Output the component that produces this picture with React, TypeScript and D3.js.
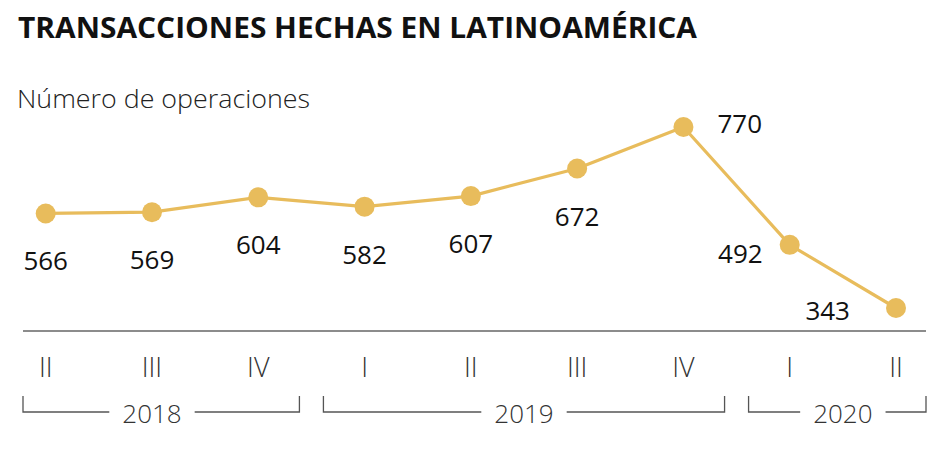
import React, { useEffect, useRef } from "react";
import * as d3 from "d3";

const quarters = ["II", "III", "IV", "I", "II", "III", "IV", "I", "II"];
const values = [566, 569, 604, 582, 607, 672, 770, 492, 343];
const labelPlacement = ["below", "below", "below", "below", "below", "below", "right", "left", "lowerLeft"];
const years = ["2018", "2019", "2020"];
const yearStart = [0, 3, 7];
const yearEnd = [2, 6, 8];

const TITLE = "TRANSACCIONES HECHAS EN LATINOAMÉRICA";
const SUBTITLE = "Número de operaciones";

const W = 951;
const H = 450;
const GOLD = "#E8BC5C";
const FONT = "'Open Sans', 'Noto Sans', sans-serif";

export default function App() {
  const ref = useRef<SVGSVGElement | null>(null);

  useEffect(() => {
    const svg = d3.select(ref.current);
    svg.selectAll("*").remove();

    const axisLeft = 23;
    const axisRight = 926;
    const axisY = 331;

    const x = d3.scalePoint<number>().domain(d3.range(values.length)).range([45.7, 896]);
    const step = x.step();
    const y = d3.scaleLinear().domain([343, 770]).range([308, 127]);

    // Title
    svg.append("text")
      .attr("x", 18).attr("y", 38)
      .attr("font-family", FONT).attr("font-weight", 700).attr("font-size", 28)
      .attr("fill", "#111")
      .attr("textLength", 679).attr("lengthAdjust", "spacingAndGlyphs")
      .text(TITLE);

    svg.append("text")
      .attr("x", 17).attr("y", 108)
      .attr("font-family", FONT).attr("font-weight", 300).attr("font-size", 26)
      .attr("fill", "#222")
      .attr("textLength", 293).attr("lengthAdjust", "spacingAndGlyphs")
      .text(SUBTITLE);

    // Axis baseline
    svg.append("line")
      .attr("x1", axisLeft).attr("x2", axisRight)
      .attr("y1", axisY).attr("y2", axisY)
      .attr("stroke", "#666").attr("stroke-width", 1.5);

    // Quarter labels
    svg.append("g").selectAll("text").data(quarters).join("text")
      .attr("x", (_d, i) => x(i)!)
      .attr("y", 377)
      .attr("text-anchor", "middle")
      .attr("font-family", FONT).attr("font-weight", 300).attr("font-size", 27)
      .attr("fill", "#333")
      .text(d => d);

    // Year brackets
    const gap = 12;
    const bTop = 396;
    const bY = 412;
    const yg = svg.append("g");
    years.forEach((yr, k) => {
      const l = Math.max(axisLeft, x(yearStart[k])! - step / 2 + gap);
      const r = Math.min(axisRight, x(yearEnd[k])! + step / 2 - gap);
      const cx = (x(yearStart[k])! + x(yearEnd[k])!) / 2;
      const t = yg.append("text")
        .attr("x", cx).attr("y", 423)
        .attr("text-anchor", "middle")
        .attr("font-family", FONT).attr("font-weight", 300).attr("font-size", 26)
        .attr("fill", "#333")
        .text(yr);
      const tw = (t.node() as SVGTextElement).getComputedTextLength();
      const pad = 13;
      const path = d3.path();
      path.moveTo(l, bTop);
      path.lineTo(l, bY);
      path.lineTo(cx - tw / 2 - pad, bY);
      path.moveTo(cx + tw / 2 + pad, bY);
      path.lineTo(r, bY);
      path.lineTo(r, bTop);
      yg.append("path")
        .attr("d", path.toString())
        .attr("fill", "none")
        .attr("stroke", "#555").attr("stroke-width", 1.3);
    });

    // Line
    const line = d3.line<number>().x((_d, i) => x(i)!).y(d => y(d));
    svg.append("path")
      .datum(values)
      .attr("d", line)
      .attr("fill", "none")
      .attr("stroke", GOLD)
      .attr("stroke-width", 3.2)
      .attr("stroke-linejoin", "round");

    svg.append("g").selectAll("circle").data(values).join("circle")
      .attr("cx", (_d, i) => x(i)!)
      .attr("cy", d => y(d))
      .attr("r", 10)
      .attr("fill", GOLD);

    // Value labels
    const off: Record<string, { dx: number; dy: number; anchor: string }> = {
      below: { dx: 0, dy: 57, anchor: "middle" },
      right: { dx: 34, dy: 6, anchor: "start" },
      left: { dx: -27, dy: 18, anchor: "end" },
      lowerLeft: { dx: -46, dy: 12, anchor: "end" },
    };
    svg.append("g").selectAll("text").data(values).join("text")
      .attr("x", (_d, i) => x(i)! + off[labelPlacement[i]].dx)
      .attr("y", (d, i) => y(d) + off[labelPlacement[i]].dy)
      .attr("text-anchor", (_d, i) => off[labelPlacement[i]].anchor)
      .attr("font-family", FONT).attr("font-weight", 400).attr("font-size", 26)
      .attr("fill", "#111")
      .text(d => String(d));
  }, []);

  return (
    <div style={{ position: "absolute", left: 0, top: 0 }}>
      <svg ref={ref} width={W} height={H} style={{ display: "block", background: "#fff" }} />
    </div>
  );
}
